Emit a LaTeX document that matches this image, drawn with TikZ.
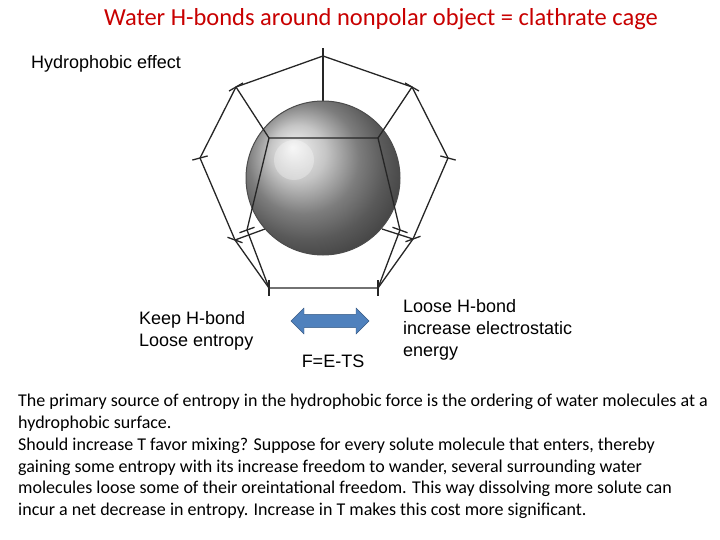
\documentclass[tikz,border=0pt]{standalone}
\usepackage{fontspec}
\setmainfont{Liberation Sans}
\newfontfamily\calfont{Carlito}
\usetikzlibrary{shapes.arrows}
\definecolor{arrblue}{RGB}{79,129,189}
\begin{document}
\begin{tikzpicture}[x=1pt,y=-1pt,
  cage/.style={line width=1.3pt,black!85},
  lbl/.style={anchor=north west,align=left,font=\fontsize{18}{22}\selectfont,inner sep=0pt}]
\useasboundingbox (0,0) rectangle (720,540);
\node (title) at (381,19) {\calfont\fontsize{24.5}{28}\selectfont\color[RGB]{200,0,0}Water H-bonds around nonpolar object = clathrate cage};
\node[lbl] (hyd) at (31,55) {Hydrophobic effect};
% cage back parts
\coordinate (T) at (323,56); \coordinate (UL) at (236,87); \coordinate (UR) at (412,87);
\coordinate (L) at (200,158); \coordinate (R) at (448,158);
\coordinate (LL) at (235,240); \coordinate (LR) at (413,239);
\coordinate (BL) at (269,288); \coordinate (BR) at (378,288);
\coordinate (IL) at (269,138); \coordinate (IR) at (378,138);
\coordinate (ILL) at (247,230); \coordinate (ILR) at (400,230);
\coordinate (TC) at (323,178);
\draw[cage] (T)--(UR)--(R)--(LR)--(BR)--(BL)--(LL)--(L)--(UL)--cycle;
\draw[cage] (LL)--(265,229); \draw[cage] (LR)--(382,229);
\draw[cage] (T)--(TC);
% sphere
\shade[ball color=gray!60, shading=ball] (323,178) circle (77);
\draw[line width=1pt,black!70] (323,178) circle (77);
\fill[white,opacity=0.3] (294,160) circle (20);
% front cage parts
\draw[cage] (UL)--(IL)--(IR)--(UR);
\draw[cage] (IL)--(ILL)--(BL); \draw[cage] (IR)--(ILR)--(BR);
\foreach \p/\a in {T/90,UL/150,UR/30,L/165,R/15,LL/200,LR/-20,BL/-90,BR/-90,ILL/160,ILR/20}{
  \draw[cage] (\p) ++(\a:8) -- ++(\a+180:16);}
% arrow
\node[double arrow, draw=arrblue!70!black, fill=arrblue, minimum width=26, minimum height=78, double arrow head extend=4, inner sep=4] (arr) at (330,321) {};
\node (fe) at (333,361) {\fontsize{18}{22}\selectfont F=E-TS};
\node[lbl] (keep) at (139,311) {Keep H-bond\\Loose entropy};
\node[lbl] (loose) at (403,299) {Loose H-bond\\increase electrostatic\\energy};
\node[anchor=north west,align=left,inner sep=0pt,font=\calfont\fontsize{18}{21.8}\selectfont] (body) at (18,394)
 {The primary source of entropy in the hydrophobic force is the ordering of water molecules at a\\
 hydrophobic surface.\\
 Should increase T favor mixing? Suppose for every solute molecule that enters, thereby\\
 gaining some entropy with its increase freedom to wander, several surrounding water\\
 molecules loose some of their oreintational freedom. This way dissolving more solute can\\
 incur a net decrease in entropy. Increase in T makes this cost more significant.};
\end{tikzpicture}
\end{document}
